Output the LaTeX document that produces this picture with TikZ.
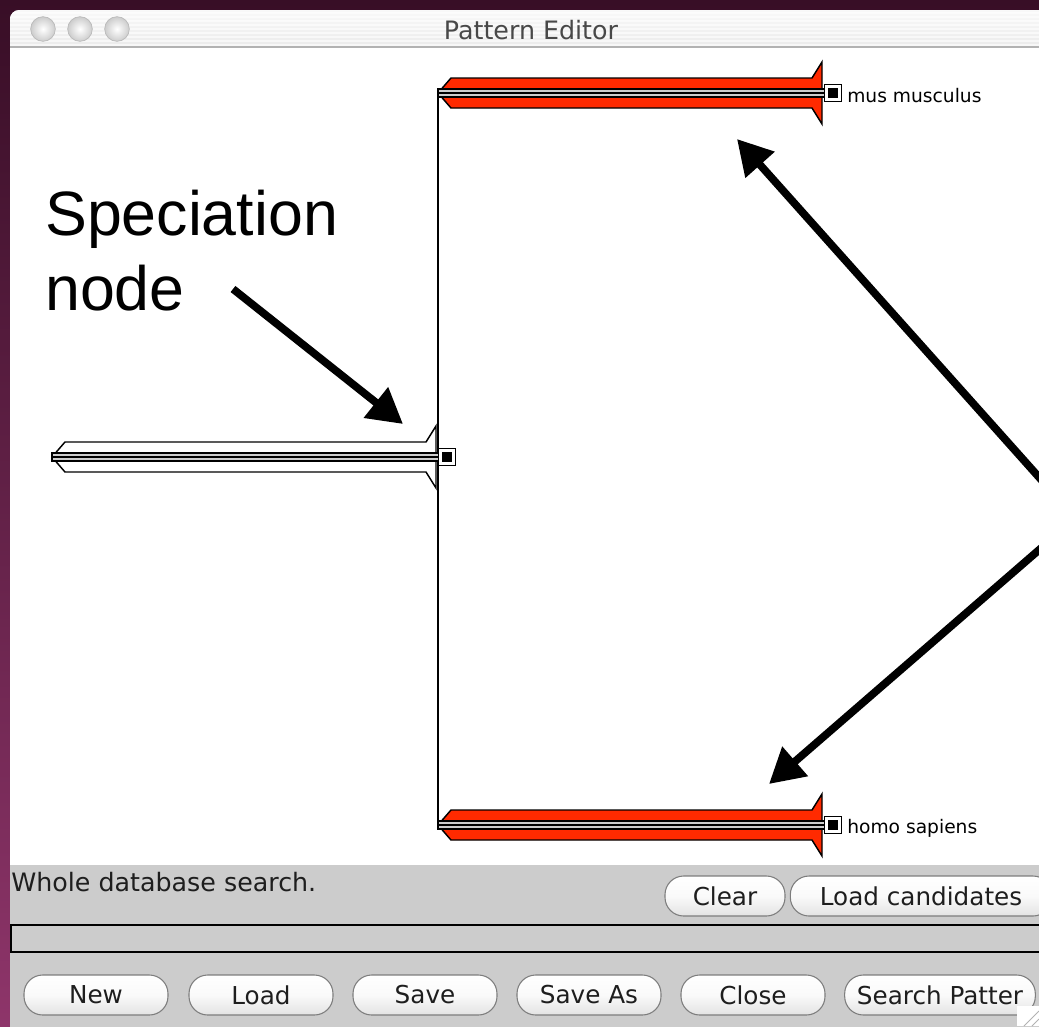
\documentclass[tikz,border=0pt]{standalone}
\usepackage{fontspec}
\setmainfont{Liberation Sans}
\newfontfamily\uifont{DejaVu Sans}
\usetikzlibrary{arrows.meta}

\definecolor{plumtop}{RGB}{56,14,38}
\definecolor{plumbot}{RGB}{142,53,106}
\definecolor{panelgray}{RGB}{204,204,204}
\definecolor{branchred}{RGB}{255,42,0}
\definecolor{stripegray}{RGB}{205,205,205}
\definecolor{titletext}{RGB}{72,72,72}
\definecolor{btnedge}{RGB}{125,125,125}
\definecolor{uitext}{RGB}{30,30,30}

% One branch of the tree: feathered shaft with a barbed right end and a node box.
% #1 left x, #2 right x, #3 centre y, #4 fill colour, #5 name of the node box
\newcommand\drawbranch[5]{%
  \filldraw[branchline, fill=#4]
    (#1,#3) -- ({#1+13},{#3-15}) -- ({#2-10},{#3-15}) -- (#2,{#3-31})
    -- (#2,{#3+31}) -- ({#2-10},{#3+15}) -- ({#1+13},{#3+15}) -- cycle;
  \filldraw[branchline, fill=stripegray] (#1,{#3-4}) rectangle ({#2+4},{#3+4});
  \draw[branchline] (#1,#3) -- ({#2+4},#3);
  \node[nodebox] (#5) at ({#2+11},#3) {};
  \fill (#5.center) ++(-3.7pt,-3.7pt) rectangle ++(7.4pt,7.4pt);
}

\tikzset{
  branchline/.style={draw=black, line width=1.1pt},
  nodebox/.style={draw=black, fill=white, line width=0.9pt, minimum size=12.5pt,
    inner sep=0pt, outer sep=0pt},
  taxon/.style={anchor=west, inner sep=0pt, font=\uifont\fontsize{14}{16}\selectfont},
  uilabel/.style={inner sep=0pt, text=uitext, font=\uifont\fontsize{19}{22}\selectfont},
  aquabtn/.style={draw=btnedge, line width=0.8pt, rounded corners=14pt,
    top color=white, bottom color=gray!22, middle color=white!96!gray,
    minimum height=30pt, inner sep=0pt, text=uitext,
    font=\uifont\fontsize{18.5}{21}\selectfont},
  light/.style={circle, minimum size=18.5pt, inner sep=0pt, draw=gray!55,
    line width=0.5pt, inner color=white, outer color=gray!40},
  callout/.style={line width=5.8pt, draw=black,
    -{Triangle[length=26pt,width=28pt]}},
  bigtext/.style={anchor=base west, inner sep=0pt,
    font=\fontsize{47}{56}\selectfont},
}

\begin{document}
\begin{tikzpicture}[x=0.75pt, y=-0.75pt]
\useasboundingbox (0,0) rectangle (1039,1026);
\clip (0,0) rectangle (1039,1026);

% desktop behind the window
\shade[top color=plumtop, bottom color=plumbot] (0,0) rectangle (1039,1026);

\begin{scope}
  \clip[rounded corners=7pt] (10,10) rectangle (1080,1100);
  % window body
  \fill[white] (10,10) rectangle (1080,1100);
  % title bar with pinstripes
  \shade[top color=gray!5, bottom color=gray!16] (10,10) rectangle (1080,47);
  \foreach \yy in {13,17,...,45}
    \draw[white, opacity=0.6, line width=0.9pt] (10,\yy) -- (1080,\yy);
  \draw[gray!60, line width=0.8pt] (10,47) -- (1080,47);
\end{scope}

\node[light] (lightclose) at (43,29) {};
\node[light] (lightmin) at (80,29) {};
\node[light] (lightzoom) at (117,29) {};
\node[inner sep=0pt, text=titletext, font=\uifont\fontsize{19}{22}\selectfont]
  (title) at (531,30) {Pattern Editor};

% the tree
\coordinate (forktop) at (438,93);
\coordinate (forkbottom) at (438,825);
\draw[line width=1.1pt] (forktop) -- (forkbottom);

\drawbranch{438}{822}{93}{branchred}{musbox}
\drawbranch{438}{822}{825}{branchred}{homobox}
\drawbranch{52}{436}{457}{white}{rootbox}

\node[taxon] (muslabel) at (847,96) {mus musculus};
\node[taxon] (homolabel) at (847,828) {homo sapiens};

% annotation
\node[bigtext] (specline1) at (45,235) {Speciation};
\node[bigtext] (specline2) at (45,310) {node};
\coordinate (specfrom) at (233,289);
\coordinate (spectip) at (403,424);
\draw[callout] (specfrom) -- (spectip);

\coordinate (leafsrcA) at (1062,503);
\coordinate (leaftipA) at (737,139);
\coordinate (leafsrcB) at (1062,530);
\coordinate (leaftipB) at (769,784);
\draw[callout] (leafsrcA) -- (leaftipA);
\draw[callout] (leafsrcB) -- (leaftipB);

% status panel
\fill[panelgray] (10,865) rectangle (1080,1030);
\node[uilabel, anchor=base west] (status) at (11,891) {Whole database search.};
\node[aquabtn, minimum width=90pt] (bclear) at (725,896) {Clear};
\node[aquabtn, minimum width=196pt] (bcand) at (921,896) {Load candidates};
\draw[line width=1.4pt, fill=panelgray] (11,925) rectangle (1060,952);

\node[aquabtn, minimum width=108pt] (bnew) at (96,995) {New};
\node[aquabtn, minimum width=108pt] (bload) at (261,995) {Load};
\node[aquabtn, minimum width=108pt] (bsave) at (425,995) {Save};
\node[aquabtn, minimum width=108pt] (bsaveas) at (589,995) {Save As};
\node[aquabtn, minimum width=108pt] (bclose) at (753,995) {Close};
\node[aquabtn, minimum width=143pt] (bsearch) at (940,995) {Search Patter};

% resize grip
\fill[white] (1017,1006) rectangle (1039,1026);
\draw[gray!60, line width=0.6pt] (1024,1026) -- (1039,1011);
\draw[gray!60, line width=0.6pt] (1032,1026) -- (1039,1019);
\end{tikzpicture}
\end{document}
